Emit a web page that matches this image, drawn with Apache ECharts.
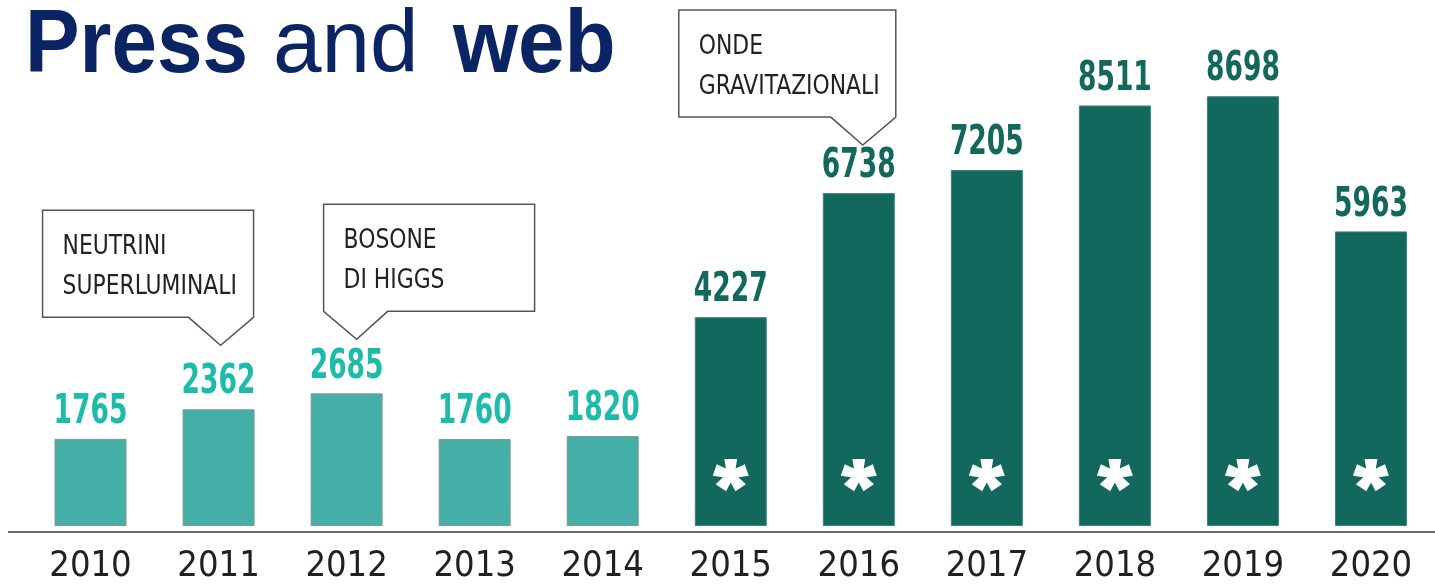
<!DOCTYPE html>
<html>
<head>
<meta charset="utf-8">
<title>Press and web</title>
<script src="https://cdn.jsdelivr.net/npm/echarts@6/dist/echarts.min.js"></script>
<style>
  html, body { margin: 0; padding: 0; background: #fff; }
  #chart { width: 1435px; height: 588px; }
</style>
</head>
<body>
<div id="chart"></div>
<script>
// ---------- 数据 ----------
var years = ['2010', '2011', '2012', '2013', '2014', '2015', '2016', '2017', '2018', '2019', '2020'];
var lightValues = [1765, 2362, 2685, 1760, 1820, '-', '-', '-', '-', '-', '-'];
var darkValues = ['-', '-', '-', '-', '-', 4227, 6738, 7205, 8511, 8698, 5963];
// 白色星号的高度（数值坐标）
var starLevel = ['-', '-', '-', '-', '-', 1030, 1030, 1030, 1030, 1030, 1030];

var notes = [
  { year: '2011', value: 2362, lines: ['NEUTRINI', 'SUPERLUMINALI'], tail: 'right', dx: 2, dy: -64, w: 211 },
  { year: '2012', value: 2685, lines: ['BOSONE', 'DI HIGGS'], tail: 'left', dx: 10, dy: -54, w: 211 },
  { year: '2016', value: 6738, lines: ['ONDE', 'GRAVITAZIONALI'], tail: 'right', dx: 4, dy: -48, w: 217 }
];

// ---------- 样式 ----------
var lightBar = '#45AFA7';
var lightText = '#1DBBAA';
var darkBar = '#13685E';
var navy = '#0B2463';
var axisGrey = '#6b6b6b';
var narrow = "'Liberation Sans Narrow', 'DejaVu Sans Condensed', sans-serif";
var titleFont = "'Liberation Sans', Arial, sans-serif";

function asteriskPath(R, w0, w1) {
  var d = '';
  for (var k = 0; k < 5; k++) {
    var a = k * 72 * Math.PI / 180;
    var dx = Math.sin(a), dy = -Math.cos(a);
    var px = Math.cos(a), py = Math.sin(a);
    var r0 = -2;
    var pts = [
      [r0 * dx - w0 * px, r0 * dy - w0 * py],
      [R * dx - w1 * px, R * dy - w1 * py],
      [R * dx + w1 * px, R * dy + w1 * py],
      [r0 * dx + w0 * px, r0 * dy + w0 * py]
    ];
    d += 'M' + pts.map(function (p) { return p[0].toFixed(2) + ',' + p[1].toFixed(2); }).join('L') + 'Z';
  }
  return 'path://' + d;
}

// 数值标签：用 custom 系列画，便于横向压缩成窄体
function labelSeries(values, color) {
  return {
    type: 'custom',
    data: values.map(function (v, i) { return [years[i], v]; }),
    z: 4,
    renderItem: function (params, api) {
      var v = api.value(1);
      if (isNaN(v)) return;
      var pt = api.coord([api.value(0), v]);
      return {
        type: 'text',
        x: pt[0],
        y: pt[1] - 6,
        scaleX: 0.72,
        style: {
          text: String(v),
          fill: color,
          font: 'bold 41px ' + narrow,
          align: 'center',
          verticalAlign: 'bottom'
        }
      };
    }
  };
}

var chart = echarts.init(document.getElementById('chart'), null, { renderer: 'canvas' });

chart.setOption({
  animation: false,
  grid: { left: 26.5, right: -5.5, top: 27, bottom: 56 },
  xAxis: {
    type: 'category',
    data: years,
    axisLine: { onZero: false, lineStyle: { color: axisGrey, width: 2 } },
    axisTick: { show: false },
    axisLabel: { color: '#231f20', fontFamily: narrow, fontSize: 36, margin: 17 }
  },
  yAxis: {
    type: 'value',
    min: -121,
    max: 10100,
    show: false
  },
  series: [
    {
      type: 'bar',
      data: lightValues,
      barWidth: 72,
      barGap: '-100%',
      itemStyle: { color: lightBar, borderColor: '#7f9a97', borderWidth: 1 }
    },
    {
      type: 'bar',
      data: darkValues,
      barWidth: 72,
      barGap: '-100%',
      itemStyle: { color: darkBar, borderColor: '#3f8178', borderWidth: 1 }
    },
    {
      type: 'scatter',
      data: starLevel,
      symbol: asteriskPath(17, 3.5, 6.5),
      symbolSize: [36, 34],
      symbolKeepAspect: true,
      itemStyle: { color: '#ffffff', opacity: 1 },
      z: 5
    },
    labelSeries(lightValues, lightText),
    labelSeries(darkValues, darkBar)
  ]
});

// ---------- 标注气泡 ----------
function bubble(note) {
  var p = chart.convertToPixel({ xAxisIndex: 0, yAxisIndex: 0 }, [note.year, note.value]);
  var tx = p[0] + note.dx, ty = p[1] + note.dy;
  var B = ty - 28, T = B - 107, L, R, pts;
  if (note.tail === 'right') {
    R = tx + 33; L = R - note.w;
    pts = [[L, T], [R, T], [R, B], [tx, ty], [tx - 32, B], [L, B]];
  } else {
    L = tx - 33; R = L + note.w;
    pts = [[L, T], [R, T], [R, B], [tx + 31, B], [tx, ty], [L, B]];
  }
  return [
    {
      type: 'polygon',
      shape: { points: pts },
      style: { fill: '#fff', stroke: '#555', lineWidth: 1.5 }
    },
    {
      type: 'text',
      x: L + 20,
      y: T + 17,
      scaleX: 0.9,
      style: {
        text: note.lines.join('\n'),
        fill: '#222',
        font: '27px ' + narrow,
        lineHeight: 40,
        verticalAlign: 'top'
      }
    }
  ];
}

function titlePart(text, x, bold, sx) {
  return {
    type: 'text',
    x: x,
    y: 3,
    scaleX: sx,
    style: {
      text: text,
      fill: navy,
      font: (bold ? 'bold ' : '') + '89px ' + titleFont,
      verticalAlign: 'top'
    }
  };
}

var graphics = [
  titlePart('Press', 25, true, 0.92),
  titlePart('and', 273, false, 0.98),
  titlePart('web', 453, true, 0.94)
];
notes.forEach(function (n) { graphics = graphics.concat(bubble(n)); });

// 基线向左延伸到画面边缘附近
var base = chart.convertToPixel({ xAxisIndex: 0, yAxisIndex: 0 }, [years[0], -121]);
graphics.push({
  type: 'line',
  shape: { x1: 8, y1: base[1], x2: 27, y2: base[1] },
  style: { stroke: axisGrey, lineWidth: 2 }
});

chart.setOption({ graphic: graphics });

window.addEventListener('resize', function () { chart.resize(); });
</script>
</body>
</html>
